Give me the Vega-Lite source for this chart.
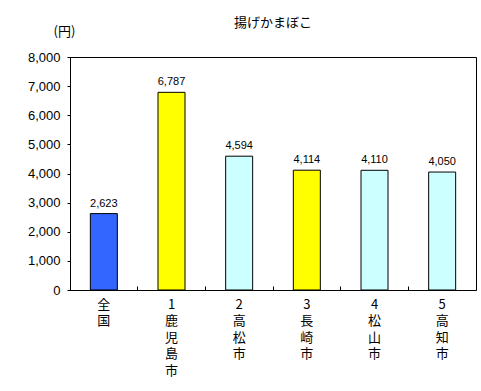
{
  "$schema": "https://vega.github.io/schema/vega-lite/v6.json",
  "autosize": {"type": "none"},
  "width": 406,
  "height": 233,
  "padding": {"left": 70, "top": 57, "right": 5, "bottom": 101},
  "background": "white",
  "title": {"text": "揚げかまぼこ", "font": "Noto Sans CJK JP", "fontSize": 13, "fontWeight": "normal", "color": "black", "anchor": "middle", "offset": -5},
  "config": {
    "view": {"stroke": "black", "strokeWidth": 1},
    "axis": {"domainColor": "black", "tickColor": "black", "labelColor": "black", "titleColor": "black", "grid": false}
  },
  "data": {"values": [
    {"name": "全国", "value": 2623, "kind": "national"},
    {"name": "1鹿児島市", "value": 6787, "kind": "highlight"},
    {"name": "2高松市", "value": 4594, "kind": "city"},
    {"name": "3長崎市", "value": 4114, "kind": "highlight"},
    {"name": "4松山市", "value": 4110, "kind": "city"},
    {"name": "5高知市", "value": 4050, "kind": "city"}
  ]},
  "encoding": {
    "x": {"field": "name", "type": "nominal", "sort": null,
      "scale": {"paddingInner": 0, "paddingOuter": 0},
      "axis": {"title": null, "labelAngle": 0, "labelAlign": "center", "labelBaseline": "top",
        "labelExpr": "split(datum.label, '')", "labelFont": "Noto Sans CJK JP", "labelFontSize": 13, "labelLineHeight": 16.5,
        "labelPadding": 12, "bandPosition": 0, "labelOffset": 0, "tickSize": -4, "domainWidth": 1}},
    "y": {"field": "value", "type": "quantitative",
      "scale": {"domain": [0, 8000]},
      "axis": {"values": [0, 1000, 2000, 3000, 4000, 5000, 6000, 7000, 8000], "format": ",d",
        "labelFont": "Liberation Sans", "labelFontSize": 13, "labelPadding": 7, "tickSize": 3,
        "title": "(円)", "titleFont": "Noto Sans CJK JP", "titleFontSize": 13, "titleFontWeight": "normal",
        "titleAngle": 0, "titleAlign": "center", "titleBaseline": "middle", "titleX": -6, "titleY": -26}}
  },
  "layer": [
    {"mark": {"type": "bar", "size": 27, "stroke": "black", "strokeWidth": 1},
     "encoding": {"color": {"field": "kind", "type": "nominal", "legend": null,
       "scale": {"domain": ["national", "highlight", "city"], "range": ["#3366FF", "#FFFF00", "#CCFFFF"]}}}},
    {"mark": {"type": "text", "baseline": "bottom", "dy": -5, "font": "Liberation Sans", "fontSize": 11, "color": "black"},
     "encoding": {"text": {"field": "value", "type": "quantitative", "format": ",d"}}}
  ]
}
